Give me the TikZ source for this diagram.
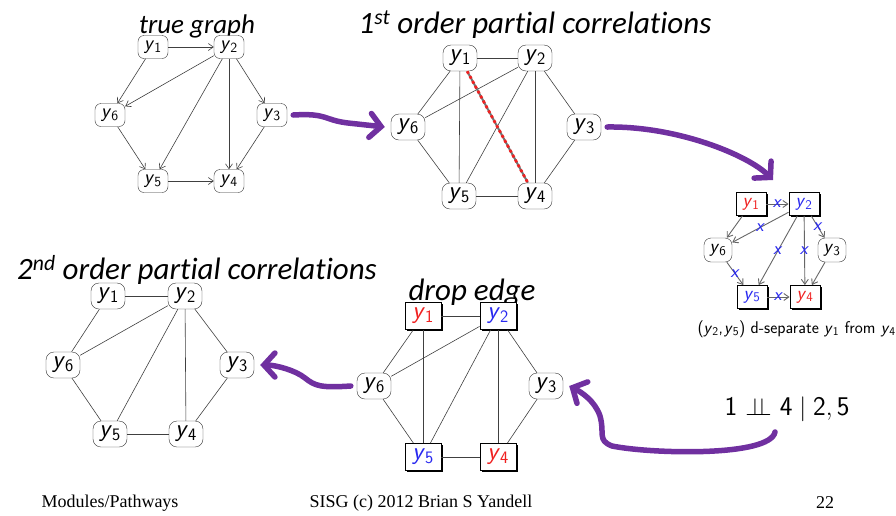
\documentclass[tikz,border=0pt]{standalone}
\usepackage{fontspec}
\usepackage{amsmath,amssymb}
\usepackage{tikz}
\usetikzlibrary{arrows.meta,shadows}
\newfontfamily\titlefont[Ligatures=NoCommon]{Carlito}
\newfontfamily\footfont{Liberation Serif}
\definecolor{pathpurple}{HTML}{7030A0}
\definecolor{sepred}{HTML}{F02020}
\definecolor{sepblue}{HTML}{2828F0}
\newcommand{\yv}[1]{\textsf{\textit{y}}$_{\textsf{#1}}$}
\newcommand{\xm}{\textsf{\textit{x}}}

\begin{document}
\begin{tikzpicture}[
  x=1pt,
  y=-1pt,
  title/.style={font=\titlefont\itshape\fontsize{31}{34}\selectfont, inner sep=0pt},
  foot/.style={font=\footfont\fontsize{18}{20}\selectfont, inner sep=0pt},
  edge/.style={draw=black!75, line width=0.6pt},
  arc/.style={edge, -{Straight Barb[length=5pt,width=7pt]}},
  darc/.style={draw=black!60, line width=0.9pt, -{Straight Barb[length=5pt,width=7pt]}},
  bigarrow/.style={draw=pathpurple, line width=5.5pt, line cap=round,
    -{Straight Barb[length=11pt,width=24pt,line cap=round]}},
  small/.style={
    rounded corners=6pt,
    draw=black!80,
    fill=white,
    minimum width=30pt,
    minimum height=23pt,
    inner sep=0pt,
    font=\fontsize{20}{21}\selectfont
  },
  vert/.style={
    rounded corners=8pt,
    draw=black!80,
    fill=white,
    minimum width=34pt,
    minimum height=26pt,
    inner sep=0.5pt,
    font=\fontsize{25}{26}\selectfont
  },
  keep/.style={
    rectangle,
    draw=black,
    line width=0.9pt,
    fill=white,
    drop shadow={shadow xshift=1.8pt, shadow yshift=-1.8pt, fill=black, opacity=1},
    minimum width=36pt,
    minimum height=27pt,
    inner sep=0.5pt,
    font=\fontsize{25}{26}\selectfont
  },
  tiny/.style={
    rounded corners=7pt,
    draw=black!80,
    fill=white,
    minimum width=28pt,
    minimum height=24pt,
    inner sep=0pt,
    font=\fontsize{19}{20}\selectfont
  },
  tinykeep/.style={
    keep,
    minimum width=30pt,
    minimum height=23pt,
    font=\fontsize{19}{20}\selectfont
  },
  xlab/.style={midway, inner sep=0pt, text=sepblue, font=\fontsize{18}{19}\selectfont}
]
\useasboundingbox (0,0) rectangle (896,515);

% titles
\node[title, font=\titlefont\itshape\fontsize{27}{30}\selectfont] (ttrue) at (197,26) {true graph};
\node[title] (tfirst) at (535,25) {1\textsuperscript{st} order partial correlations};
\node[title] (tsecond) at (197,270) {2\textsuperscript{nd} order partial correlations};
\node[title] (tdrop) at (472,292) {drop edge};

% true graph
\node[small] (t1) at (153,47) {\yv{1}};
\node[small] (t2) at (229,47) {\yv{2}};
\node[small] (t6) at (110,115) {\yv{6}};
\node[small] (t3) at (272,115) {\yv{3}};
\node[small] (t5) at (153,181) {\yv{5}};
\node[small] (t4) at (229,181) {\yv{4}};

\draw[arc] (t1) -- (t2);
\draw[arc] (t1) -- (t6);
\draw[arc] (t2) -- (t6);
\draw[arc] (t2) -- (t5);
\draw[arc] (t2) -- (t4);
\draw[arc] (t2) -- (t3);
\draw[arc] (t6) -- (t5);
\draw[arc] (t3) -- (t4);
\draw[arc] (t5) -- (t4);

% first order graph
\node[vert] (f1) at (460,58) {\yv{1}};
\node[vert] (f2) at (535,58) {\yv{2}};
\node[vert] (f6) at (408,127) {\yv{6}};
\node[vert] (f3) at (584,127) {\yv{3}};
\node[vert] (f5) at (459,196) {\yv{5}};
\node[vert] (f4) at (535,196) {\yv{4}};

\draw[edge] (f1) -- (f2);
\draw[edge] (f1) -- (f6);
\draw[edge] (f1) -- (f5);
\draw[edge] (f2) -- (f6);
\draw[edge] (f2) -- (f5);
\draw[edge] (f2) -- (f4);
\draw[edge] (f2) -- (f3);
\draw[edge] (f6) -- (f5);
\draw[edge] (f3) -- (f4);
\draw[edge] (f5) -- (f4);
\draw[draw=black!55, line width=2pt] (f1) -- (f4);
\draw[draw=sepred, line width=2.8pt, dash pattern=on 2.8pt off 2.8pt] (f1) -- (f4);

% d-separation graph
\node[tinykeep] (d1) at (751,204) {\textcolor{sepred}{\yv{1}}};
\node[tinykeep] (d2) at (804,204) {\textcolor{sepblue}{\yv{2}}};
\node[tiny] (d6) at (718,250) {\yv{6}};
\node[tiny] (d3) at (832,250) {\yv{3}};
\node[tinykeep] (d5) at (752,297) {\textcolor{sepblue}{\yv{5}}};
\node[tinykeep] (d4) at (805,297) {\textcolor{sepred}{\yv{4}}};

\draw[darc] (d1) -- node[xlab] {\xm} (d2);
\draw[darc] (d1) -- (d6);
\draw[darc] (d2) -- node[xlab] {\xm} (d6);
\draw[darc] (d2) -- node[xlab] {\xm} (d5);
\draw[darc] (d2) -- node[xlab] {\xm} (d4);
\draw[darc] (d2) -- node[xlab] {\xm} (d3);
\draw[darc] (d6) -- node[xlab] {\xm} (d5);
\draw[darc] (d3) -- (d4);
\draw[darc] (d5) -- node[xlab] {\xm} (d4);

\node[inner sep=0pt, anchor=east, font=\sffamily\fontsize{17}{19}\selectfont] (dsep) at (896,329)
  {(\yv{2},\kern1pt\yv{5}) d-separate \yv{1} from \yv{4}};
\node[inner sep=0pt, font=\fontsize{27}{30}\selectfont] (indep) at (787,409)
  {$\mathsf{1}\ {\perp\!\!\!\perp}\ \mathsf{4}\mid\mathsf{2},\mathsf{5}$};

% second order graph
\node[vert] (s1) at (108,296) {\yv{1}};
\node[vert] (s2) at (185,296) {\yv{2}};
\node[vert] (s6) at (63,365) {\yv{6}};
\node[vert] (s3) at (237,365) {\yv{3}};
\node[vert] (s5) at (110,434) {\yv{5}};
\node[vert] (s4) at (186,434) {\yv{4}};

\draw[edge] (s1) -- (s2);
\draw[edge] (s1) -- (s6);
\draw[edge] (s2) -- (s6);
\draw[edge] (s2) -- (s5);
\draw[edge] (s2) -- (s4);
\draw[edge] (s2) -- (s3);
\draw[edge] (s6) -- (s5);
\draw[edge] (s3) -- (s4);
\draw[edge] (s5) -- (s4);

% drop edge graph
\node[keep] (e1) at (423,316) {\textcolor{sepred}{\yv{1}}};
\node[keep] (e2) at (498,316) {\textcolor{sepblue}{\yv{2}}};
\node[vert] (e6) at (374,386) {\yv{6}};
\node[vert] (e3) at (546,386) {\yv{3}};
\node[keep] (e5) at (423,457) {\textcolor{sepblue}{\yv{5}}};
\node[keep] (e4) at (498,457) {\textcolor{sepred}{\yv{4}}};

\draw[edge] (e1) -- (e2);
\draw[edge] (e1) -- (e6);
\draw[edge] (e1) -- (e5);
\draw[edge] (e2) -- (e6);
\draw[edge] (e2) -- (e5);
\draw[edge] (e2) -- (e4);
\draw[edge] (e2) -- (e3);
\draw[edge] (e6) -- (e5);
\draw[edge] (e3) -- (e4);
\draw[edge] (e5) -- (e4);

% purple arrows
\coordinate (dtop) at (773,180);
\coordinate (istart) at (775,432);
\draw[bigarrow] ([xshift=6pt]t3.east) .. controls +(35,-2) and +(-25,-3) .. (348,123)
  -- ([xshift=-6pt]f6.west);
\draw[bigarrow] ([xshift=6pt]f3.east) .. controls +(70,-1) and +(-25,-25) .. (dtop);
\draw[bigarrow] (istart) .. controls +(-5,25) and +(40,8) .. (612,446)
  .. controls +(-15,-6) and +(5,18) .. (600,416)
  .. controls +(-5,-15) and +(12,6) .. ([xshift=6pt]e3.east);
\draw[bigarrow] ([xshift=-6pt]e6.west) .. controls +(-30,2) and +(10,8) .. (305,378)
  .. controls +(-10,-8) and +(15,0) .. ([xshift=6pt]s3.east);

% footer
\node[foot] (fmod) at (110,503) {Modules/Pathways};
\node[foot] (fsisg) at (421,503) {SISG (c) 2012 Brian S Yandell};
\node[foot] (fpage) at (825,503) {22};

\end{tikzpicture}
\end{document}
